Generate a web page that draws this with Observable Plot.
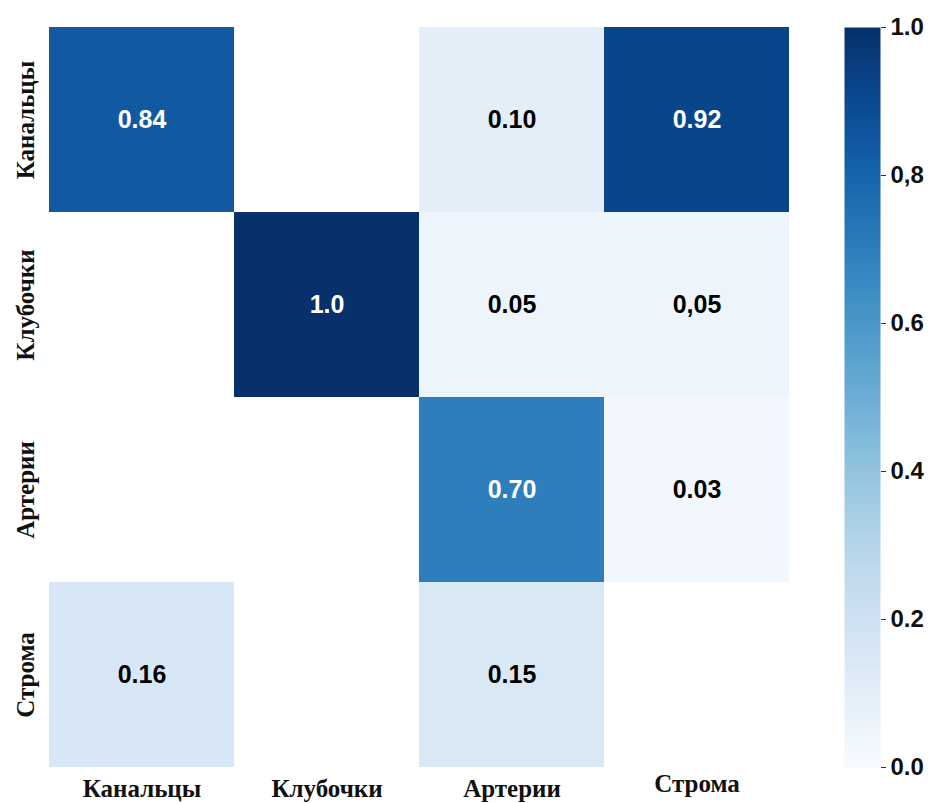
<!DOCTYPE html>
<html>
<head>
<meta charset="utf-8">
<script src="https://cdn.jsdelivr.net/npm/d3@7"></script>
<script src="https://cdn.jsdelivr.net/npm/@observablehq/plot@0.6"></script>
<style>
  html, body { margin: 0; padding: 0; background: #fff; }
  #wrap { position: relative; width: 931px; height: 803px; overflow: hidden; }
  #wrap svg { position: absolute; left: 0; top: 0; }
</style>
</head>
<body>
<div id="wrap"></div>
<script>
// ---- data ----
const rows = ["Канальцы", "Клубочки", "Артерии", "Строма"];
const cols = ["Канальцы", "Клубочки", "Артерии", "Строма"];
const values = [
  [0.84, null, 0.10, 0.92],
  [null, 1.0, 0.05, 0.05],
  [null, null, 0.70, 0.03],
  [0.16, null, 0.15, null]
];
const labels = [
  ["0.84", "", "0.10", "0.92"],
  ["", "1.0", "0.05", "0,05"],
  ["", "", "0.70", "0.03"],
  ["0.16", "", "0.15", ""]
];
const colorTicks = [0, 0.2, 0.4, 0.6, 0.8, 1.0];
const colorTickLabels = ["0.0", "0.2", "0.4", "0.6", "0,8", "1.0"];

// table built from the arrays
const cells = [];
rows.forEach((r, i) => cols.forEach((c, j) => {
  if (values[i][j] != null) cells.push({row: r, col: c, value: values[i][j], label: labels[i][j]});
}));

const sans = "'Liberation Sans', Arial, sans-serif";
const serif = "'Liberation Serif', 'Times New Roman', serif";
const colorOpts = {type: "linear", scheme: "blues", domain: [0, 1]};

const heat = Plot.plot({
  width: 931,
  height: 803,
  marginLeft: 47,
  marginRight: 141,
  marginTop: 26,
  marginBottom: 35,
  x: {type: "band", domain: cols, padding: 0, axis: null},
  y: {type: "band", domain: rows, padding: 0, axis: null},
  color: colorOpts,
  marks: [
    Plot.cell(cells, {x: "col", y: "row", fill: "value"}),
    Plot.text(cells.filter(d => d.value > 0.5), {x: "col", y: "row", text: "label", fill: "white",
      fontSize: 25, fontWeight: "bold", fontFamily: sans}),
    Plot.text(cells.filter(d => d.value <= 0.5), {x: "col", y: "row", text: "label", fill: "black",
      fontSize: 25, fontWeight: "bold", fontFamily: sans}),
    Plot.text(rows, {y: d => d, text: d => d, frameAnchor: "left", dx: -14, rotate: -90,
      textAnchor: "middle", lineAnchor: "bottom", fontSize: 25, fontWeight: "bold", fontFamily: serif, fill: "#111"}),
    Plot.text(cols.filter(c => c !== "Строма"), {x: d => d, text: d => d, frameAnchor: "bottom", dy: 28,
      textAnchor: "middle", lineAnchor: "bottom", fontSize: 25, fontWeight: "bold", fontFamily: serif, fill: "#111"}),
    Plot.text(cols.filter(c => c === "Строма"), {x: d => d, text: d => d, frameAnchor: "bottom", dy: 23,
      textAnchor: "middle", lineAnchor: "bottom", fontSize: 25, fontWeight: "bold", fontFamily: serif, fill: "#111"})
  ]
});

const bar = Plot.plot({
  width: 931,
  height: 803,
  marginLeft: 844,
  marginRight: 51,
  marginTop: 27,
  marginBottom: 36,
  x: {type: "linear", domain: [0, 1], axis: null},
  y: {type: "linear", domain: [0, 1], axis: null},
  color: colorOpts,
  style: {background: "transparent", fontSize: "24px", fontWeight: "bold", fontFamily: sans},
  marks: [
    Plot.raster({x1: 0, x2: 1, y1: 0, y2: 1, width: 1, height: 256, fill: (x, y) => y}),
    Plot.axisY({anchor: "right", ticks: colorTicks, tickSize: 5, tickPadding: 5,
      tickFormat: d => colorTickLabels[colorTicks.indexOf(d)], label: null,
      fontSize: 24, fontWeight: "bold", fontFamily: sans, fill: "#111", stroke: "#333"})
  ]
});

const wrap = document.getElementById("wrap");
wrap.appendChild(heat);
wrap.appendChild(bar);
</script>
</body>
</html>
